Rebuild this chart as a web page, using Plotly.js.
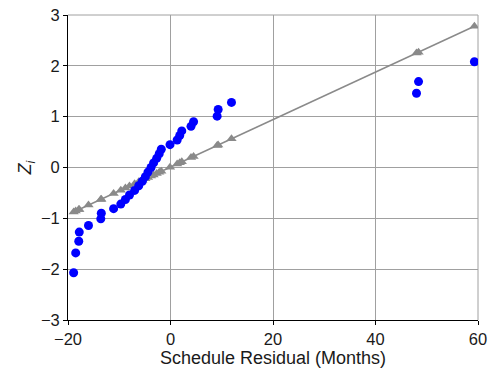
<!DOCTYPE html>
<html>
<head>
<meta charset="utf-8">
<script src="https://cdn.plot.ly/plotly-3.0.1.min.js"></script>
<style>html,body{margin:0;padding:0;background:#fff;}#chart{width:488px;height:371px;}</style>
</head>
<body>
<div id="chart"></div>
<script>
// Schedule residual (months), sorted
const residual = [-18.9, -18.5, -17.9, -17.8, -16.0, -13.6, -13.5, -11.1, -9.7, -8.8, -8.0,
  -7.0, -6.2, -5.5, -4.9, -4.4, -3.8, -3.3, -2.7, -2.2, -1.8, -0.1,
  1.3, 1.8, 2.2, 4.0, 4.5, 9.1, 9.3, 11.9, 48.0, 48.4, 59.3];
// Normal scores Z_i
const zScore = [-2.07, -1.68, -1.45, -1.27, -1.14, -1.01, -0.90, -0.81, -0.72, -0.63, -0.54,
  -0.45, -0.36, -0.27, -0.18, -0.09, 0.00, 0.09, 0.18, 0.27, 0.36, 0.45,
  0.54, 0.63, 0.72, 0.81, 0.90, 1.01, 1.14, 1.28, 1.46, 1.69, 2.08];
// Reference normal line parameters
const fitMean = -0.17;
const fitSd = 21.4;
const xTicks = [-20, 0, 20, 40, 60];
const yTicks = [-3, -2, -1, 0, 1, 2, 3];

const fitZ = residual.map(x => (x - fitMean) / fitSd);

const tickFont = {family: 'Liberation Sans, Arial, sans-serif', size: 16.5, color: '#1a1a1a'};
const titleFont = {family: 'Liberation Sans, Arial, sans-serif', size: 18, color: '#1a1a1a'};

const data = [
  {x: residual, y: fitZ, mode: 'lines+markers', type: 'scatter',
   line: {color: '#8a8a8a', width: 1.5},
   marker: {symbol: 'triangle-up', size: 9, color: '#8a8a8a'}, hoverinfo: 'none'},
  {x: residual, y: zScore, mode: 'markers', type: 'scatter',
   marker: {symbol: 'circle', size: 9, color: '#0000ff'}, hoverinfo: 'none'}
];

const layout = {
  width: 488, height: 371,
  margin: {l: 68, r: 10, t: 15, b: 51, pad: 0},
  paper_bgcolor: '#fff', plot_bgcolor: '#fff',
  showlegend: false,
  font: tickFont,
  xaxis: {range: [-20, 60], tickvals: xTicks, ticktext: xTicks.map(v => v < 0 ? '\u2212' + Math.abs(v) : String(v)),
    tickfont: tickFont,
    showgrid: true, gridcolor: '#a0a0a0', gridwidth: 1, zeroline: false,
    showline: true, linecolor: '#000', linewidth: 1, ticks: 'outside', ticklen: 4, tickcolor: '#000',
    title: {text: 'Schedule Residual (Months)', font: titleFont, standoff: 2}},
  yaxis: {range: [-3, 3], tickvals: yTicks, ticktext: yTicks.map(v => v < 0 ? '\u2212' + Math.abs(v) : String(v)),
    tickfont: tickFont,
    showgrid: true, gridcolor: '#a0a0a0', gridwidth: 1, zeroline: false,
    showline: true, linecolor: '#000', linewidth: 1, ticks: 'outside', ticklen: 4, tickcolor: '#000',
    title: {text: '<i>Z<sub>i</sub></i>', font: titleFont, standoff: 4}},
  shapes: [
    {type: 'line', xref: 'paper', yref: 'paper', x0: 0, x1: 1, y0: 1, y1: 1, line: {color: '#a0a0a0', width: 1}, layer: 'below'},
    {type: 'line', xref: 'paper', yref: 'paper', x0: 1, x1: 1, y0: 0, y1: 1, line: {color: '#a0a0a0', width: 1}, layer: 'below'}
  ]
};

Plotly.newPlot('chart', data, layout, {displayModeBar: false, staticPlot: true});
</script>
</body>
</html>
